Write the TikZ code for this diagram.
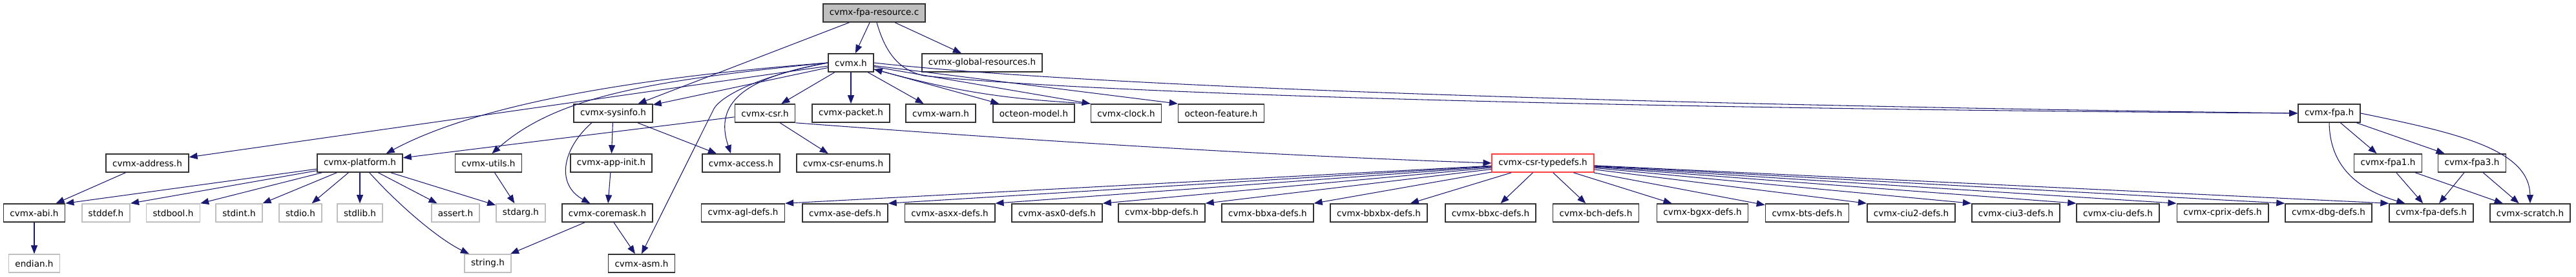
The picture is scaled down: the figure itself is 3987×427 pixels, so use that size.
\documentclass[tikz,border=0pt]{standalone}
\usepackage{fontspec}
\setmainfont{DejaVu Sans}
\usetikzlibrary{arrows.meta}
\definecolor{depblue}{RGB}{25,25,112}
\definecolor{boxgrey}{RGB}{191,191,191}

\begin{document}
\begin{tikzpicture}[
    x=0.01cm, y=-0.01cm,
    hfile/.style={draw=black!80, line width=0.45pt, fill=white, minimum height=0.28cm, inner xsep=0.1cm, inner ysep=0pt, font=\fontsize{3.85}{4.6}\selectfont},
    sysfile/.style={hfile, draw=boxgrey},
    dep/.style={-{Triangle[length=0.13cm, width=0.1cm]}, draw=depblue, line width=0.3pt},
]
\useasboundingbox (0,0) rectangle (3987,427);

% source file
\node[hfile, fill=boxgrey] (res) at (1353,20) {cvmx-fpa-resource.c};

% first level
\node[hfile] (cvmx) at (1317,97) {cvmx.h};
\node[hfile] (global) at (1520,97) {cvmx-global-resources.h};

% second level
\node[hfile] (sysinfo) at (949,175) {cvmx-sysinfo.h};
\node[hfile] (csr) at (1184,175) {cvmx-csr.h};
\node[hfile] (packet) at (1317,175) {cvmx-packet.h};
\node[hfile] (warn) at (1456,175) {cvmx-warn.h};
\node[hfile] (model) at (1600,175) {octeon-model.h};
\node[hfile] (clock) at (1743,175) {cvmx-clock.h};
\node[hfile] (feature) at (1890,175) {octeon-feature.h};
\node[hfile] (fpa) at (3605,175) {cvmx-fpa.h};

% third level
\node[hfile] (address) at (228,252) {cvmx-address.h};
\node[hfile] (platform) at (557,252) {cvmx-platform.h};
\node[hfile] (utils) at (756,252) {cvmx-utils.h};
\node[hfile] (appinit) at (946,252) {cvmx-app-init.h};
\node[hfile] (access) at (1147,252) {cvmx-access.h};
\node[hfile] (enums) at (1305,252) {cvmx-csr-enums.h};
\node[hfile, draw=red!75] (typedefs) at (2388,252) {cvmx-csr-typedefs.h};
\node[hfile] (fpa1) at (3696,252) {cvmx-fpa1.h};
\node[hfile] (fpa3) at (3826,252) {cvmx-fpa3.h};

% fourth level
\node[hfile] (abi) at (53,329) {cvmx-abi.h};
\node[sysfile] (stddef) at (164,329) {stddef.h};
\node[sysfile] (stdbool) at (268,329) {stdbool.h};
\node[sysfile] (stdint) at (370,329) {stdint.h};
\node[sysfile] (stdio) at (465,329) {stdio.h};
\node[sysfile] (stdlib) at (557,329) {stdlib.h};
\node[sysfile] (assert) at (705,329) {assert.h};
\node[sysfile] (stdarg) at (806,329) {stdarg.h};
\node[hfile] (coremask) at (940,329) {cvmx-coremask.h};
\node[hfile] (agl) at (1150,329) {cvmx-agl-defs.h};
\node[hfile] (ase) at (1308,329) {cvmx-ase-defs.h};
\node[hfile] (asxx) at (1470,329) {cvmx-asxx-defs.h};
\node[hfile] (asxz) at (1636,329) {cvmx-asx0-defs.h};
\node[hfile] (bbp) at (1798,329) {cvmx-bbp-defs.h};
\node[hfile] (bbxa) at (1962,329) {cvmx-bbxa-defs.h};
\node[hfile] (bbxbx) at (2134,329) {cvmx-bbxbx-defs.h};
\node[hfile] (bbxc) at (2307,329) {cvmx-bbxc-defs.h};
\node[hfile] (bch) at (2470,329) {cvmx-bch-defs.h};
\node[hfile] (bgxx) at (2635,329) {cvmx-bgxx-defs.h};
\node[hfile] (bts) at (2797,329) {cvmx-bts-defs.h};
\node[hfile] (ciutwo) at (2958,329) {cvmx-ciu2-defs.h};
\node[hfile] (ciuthree) at (3120,329) {cvmx-ciu3-defs.h};
\node[hfile] (ciu) at (3278,329) {cvmx-ciu-defs.h};
\node[hfile] (cprix) at (3440,329) {cvmx-cprix-defs.h};
\node[hfile] (dbg) at (3604,329) {cvmx-dbg-defs.h};
\node[hfile] (fpadefs) at (3763,329) {cvmx-fpa-defs.h};
\node[hfile] (scratch) at (3916,329) {cvmx-scratch.h};

% fifth level
\node[sysfile] (endian) at (53,407) {endian.h};
\node[sysfile] (string) at (755,407) {string.h};
\node[hfile] (asm) at (993,407) {cvmx-asm.h};

% cvmx-fpa-resource.c
\draw[dep] (res) -- (cvmx);
\draw[dep] (res) -- (global);
\draw[dep] (res) -- (sysinfo);
\draw[dep] (res.-75) .. controls (1370,80) and (1390,108) .. (1430,117) .. controls (1700,145) and (2500,168) .. (fpa.west);

% cvmx.h
\draw[dep] (cvmx) -- (address);
\draw[dep] (cvmx.west) .. controls (1050,115) and (760,150) .. (platform.20);
\draw[dep] (cvmx.west) .. controls (1000,125) and (860,150) .. (utils.70);
\draw[dep] (cvmx) -- (sysinfo);
\draw[dep] (cvmx.west) .. controls (1150,120) and (1105,160) .. (access.137);
\draw[dep] (cvmx.west) .. controls (1170,118) and (1115,150) .. (1105,168) -- (asm.north);
\draw[dep] (cvmx) -- (csr);
\draw[dep] (cvmx) -- (packet);
\draw[dep] (cvmx) -- (warn);
\draw[dep] (cvmx) -- (model);
\draw[dep] (cvmx) -- (clock.north west);
\draw[dep] (cvmx) -- (feature.north west);
\draw[dep] (cvmx.east) .. controls (1650,130) and (2400,160) .. (fpa.west);
\draw[dep] (clock.north west) to[bend left=6] (cvmx);

% cvmx-sysinfo.h
\draw[dep] (sysinfo) -- (appinit);
\draw[dep] (sysinfo) -- (access);
\draw[dep] (sysinfo.204) .. controls (870,230) and (860,285) .. (coremask.151);
\draw[dep] (appinit) -- (coremask);
\draw[dep] (coremask) -- (string);
\draw[dep] (coremask) -- (asm);

% cvmx-csr.h
\draw[dep] (csr) -- (platform);
\draw[dep] (csr) -- (enums);
\draw[dep] (csr.south east) .. controls (1500,210) and (1900,238) .. (typedefs.west);

% cvmx-platform.h
\draw[dep] (platform) -- (abi.north east);
\draw[dep] (platform) -- (stddef.north east);
\draw[dep] (platform) -- (stdbool.north east);
\draw[dep] (platform) -- (stdint.north east);
\draw[dep] (platform) -- (stdio);
\draw[dep] (platform) -- (stdlib);
\draw[dep] (platform.-45) .. controls (620,320) and (680,370) .. (string.153);
\draw[dep] (platform) -- (assert);
\draw[dep] (platform) -- (stdarg);
\draw[dep] (utils) -- (stdarg);
\draw[dep] (address) -- (abi);
\draw[dep] (abi) -- (endian);

% cvmx-csr-typedefs.h
\draw[dep] (typedefs) -- (agl.north east);
\draw[dep] (typedefs) -- (ase.north east);
\draw[dep] (typedefs) -- (asxx.north east);
\draw[dep] (typedefs) -- (asxz.north east);
\draw[dep] (typedefs) -- (bbp.north east);
\draw[dep] (typedefs) -- (bbxa.north east);
\draw[dep] (typedefs) -- (bbxbx);
\draw[dep] (typedefs) -- (bbxc);
\draw[dep] (typedefs) -- (bch);
\draw[dep] (typedefs) -- (bgxx);
\draw[dep] (typedefs) -- (bts);
\draw[dep] (typedefs) -- (ciutwo.north west);
\draw[dep] (typedefs) -- (ciuthree.north west);
\draw[dep] (typedefs) -- (ciu.north west);
\draw[dep] (typedefs) -- (cprix.north west);
\draw[dep] (typedefs) -- (dbg.north west);
\draw[dep] (typedefs) -- (fpadefs.north west);

% cvmx-fpa.h
\draw[dep] (fpa) -- (fpa1);
\draw[dep] (fpa) -- (fpa3);
\draw[dep] (fpa.south) .. controls (3606,250) and (3640,290) .. (fpadefs.160);
\draw[dep] (fpa.east) .. controls (3800,205) and (3915,230) .. (scratch.north);
\draw[dep] (fpa1) -- (fpadefs);
\draw[dep] (fpa1) -- (scratch);
\draw[dep] (fpa3) -- (fpadefs);
\draw[dep] (fpa3) -- (scratch);

\end{tikzpicture}
\end{document}
